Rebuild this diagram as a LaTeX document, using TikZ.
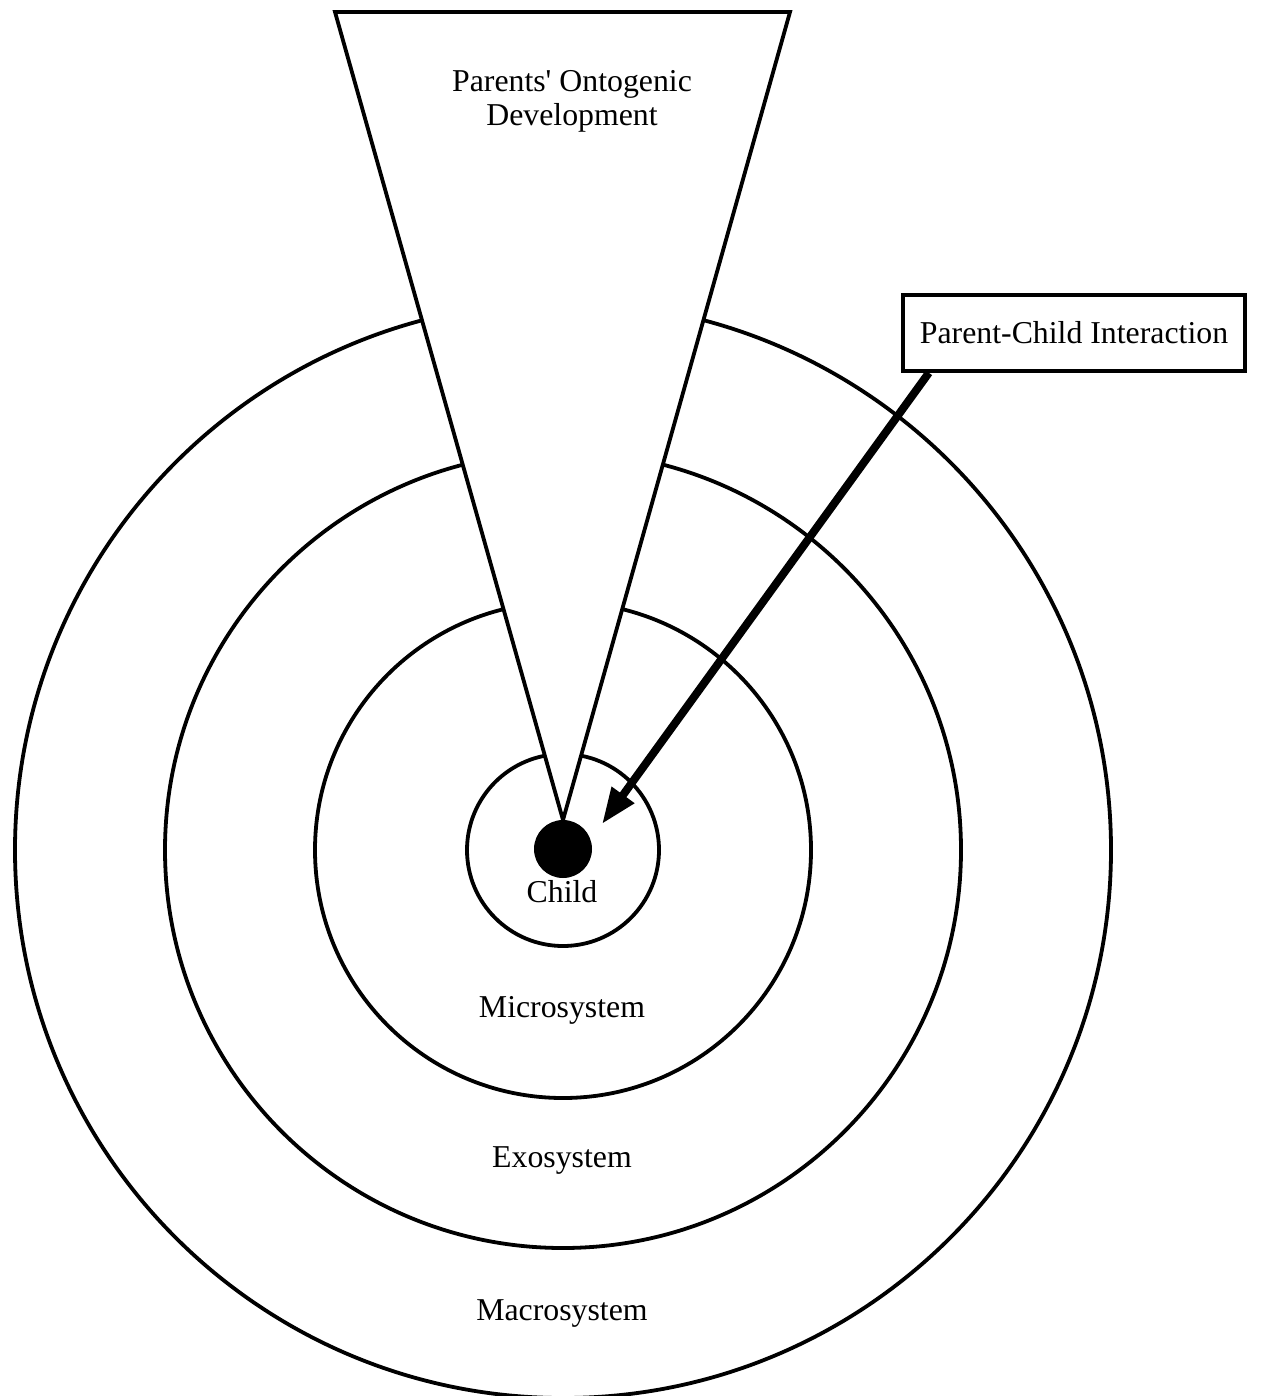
\documentclass[tikz,border=0pt]{standalone}
\usepackage{fontspec}
\setmainfont{Liberation Serif}
\usepackage{tikz}
\usetikzlibrary{arrows.meta, positioning, calc}
\tikzset{
  ring/.style={draw=black, line width=1.9pt},
  cone/.style={draw=black, line width=1.9pt, fill=white, line join=miter},
  layer/.style={font=\fontsize{15.9pt}{17pt}\selectfont, anchor=base, inner sep=0pt},
  infobox/.style={rectangle, draw=black, line width=1.8pt, fill=white,
                  minimum width=171pt, minimum height=38pt, inner sep=0pt,
                  font=\fontsize{15.9pt}{17pt}\selectfont},
  pointer/.style={-{Triangle[length=18pt, width=13pt]}, line width=4pt, draw=black},
}

\begin{document}
\begin{tikzpicture}[x=0.5pt, y=-0.5pt]
  \useasboundingbox (0,0) rectangle (1274,1396);

  % Nested systems
  \coordinate (ctr) at (563,850);
  \draw[ring] (ctr) circle[radius=274pt];
  \draw[ring] (ctr) circle[radius=199pt];
  \draw[ring] (ctr) circle[radius=124pt];
  \draw[ring] (ctr) circle[radius=48pt];

  % Ontogenic cone over the rings
  \draw[cone] (335,12) -- (790,12) -- (563,820) -- cycle;
  \node[layer, anchor=north, align=center] (onto) at (572,70)
    {Parents\textquotesingle\ Ontogenic\\Development};

  % Child
  \node[circle, fill=black, minimum size=29pt, inner sep=0pt] (dot) at (563,849) {};
  \node[layer] (child) at (562,902) {Child};

  % System labels
  \node[layer] (micro) at (562,1017) {Microsystem};
  \node[layer] (exo) at (562,1167) {Exosystem};
  \node[layer] (macro) at (562,1320) {Macrosystem};

  % Interaction box and arrow
  \node[infobox] (pci) at (1074,333) {Parent-Child Interaction};
  \coordinate (tip) at (602,824);
  \draw[pointer] ($(pci.south west)!0.08!(pci.south east)$) -- (tip);
\end{tikzpicture}
\end{document}
